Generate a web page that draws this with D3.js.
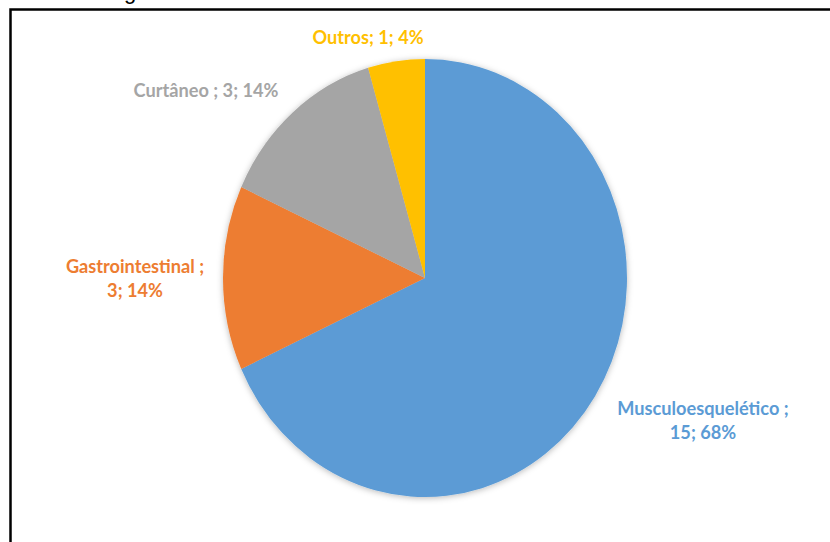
<!DOCTYPE html>
<html>
<head>
<meta charset="utf-8">
<script src="https://cdn.jsdelivr.net/npm/d3@7"></script>
<style>
  html, body { margin: 0; padding: 0; background: #fff; }
  svg { display: block; }
</style>
</head>
<body>
<svg id="chart" width="830" height="542"></svg>
<script>
// Sistemas afetados: contagem por categoria
const categories = ["Musculoesquelético", "Gastrointestinal", "Curtâneo", "Outros"];
const counts = [15, 3, 3, 1];
const percents = ["68%", "14%", "14%", "4%"];
const colors = ["#5B9BD5", "#ED7D31", "#A5A5A5", "#FFC000"];
// Label text lines per slice
const labelLines = [
  ["Musculoesquelético ;", "15; 68%"],
  ["Gastrointestinal ;", "3; 14%"],
  ["Curtâneo ; 3; 14%"],
  ["Outros; 1; 4%"]
];

const svg = d3.select("#chart");
const W = 830, H = 542;

// Heading fragment above the framed area
svg.append("text")
  .attr("x", 124).attr("y", -1)
  .attr("font-family", "Liberation Sans, Arial, sans-serif")
  .attr("font-size", 22)
  .attr("fill", "#000")
  .text("g");

// Frame
svg.append("rect")
  .attr("x", 10.5).attr("y", 9.5)
  .attr("width", W + 20).attr("height", H + 20)
  .attr("fill", "#fff")
  .attr("stroke", "#000")
  .attr("stroke-width", 2.5);

const defs = svg.append("defs");
const f = defs.append("filter").attr("id", "soft")
  .attr("x", "-20%").attr("y", "-20%").attr("width", "140%").attr("height", "140%");
f.append("feDropShadow")
  .attr("dx", 0).attr("dy", 1).attr("stdDeviation", 3)
  .attr("flood-color", "#000").attr("flood-opacity", 0.28);

const cx = 425, cy = 278, rx = 202, ry = 219;

const pie = d3.pie().sort(null).value(d => d)
  .startAngle(0).endAngle(2 * Math.PI);
const arcs = pie(counts);
const arc = d3.arc().innerRadius(0).outerRadius(rx);

const g = svg.append("g")
  .attr("transform", `translate(${cx},${cy}) scale(1,${ry / rx})`)
  .attr("filter", "url(#soft)");

g.selectAll("path")
  .data(arcs)
  .join("path")
  .attr("d", arc)
  .attr("fill", (d, i) => colors[i]);

// Data labels placed outside the pie (x centre, first baseline)
const labelPos = [
  [703, 415],
  [135, 273],
  [206, 97],
  [368, 44]
];
const lineStep = 24.5;
const sx = 1.01, sy = 1.04;

const labels = svg.append("g")
  .attr("font-family", "Lato, 'Liberation Sans', sans-serif")
  .attr("font-weight", "bold")
  .attr("font-size", 18)
  .attr("text-anchor", "middle");

labels.selectAll("text")
  .data(arcs)
  .join("text")
  .attr("fill", (d, i) => colors[i])
  .attr("transform", (d, i) => `translate(${labelPos[i][0]},${labelPos[i][1]}) scale(${sx},${sy})`)
  .each(function (d, i) {
    const t = d3.select(this);
    labelLines[i].forEach((line, k) => {
      t.append("tspan")
        .attr("x", 0)
        .attr("y", k * lineStep / sy)
        .text(line);
    });
  });
</script>
</body>
</html>
